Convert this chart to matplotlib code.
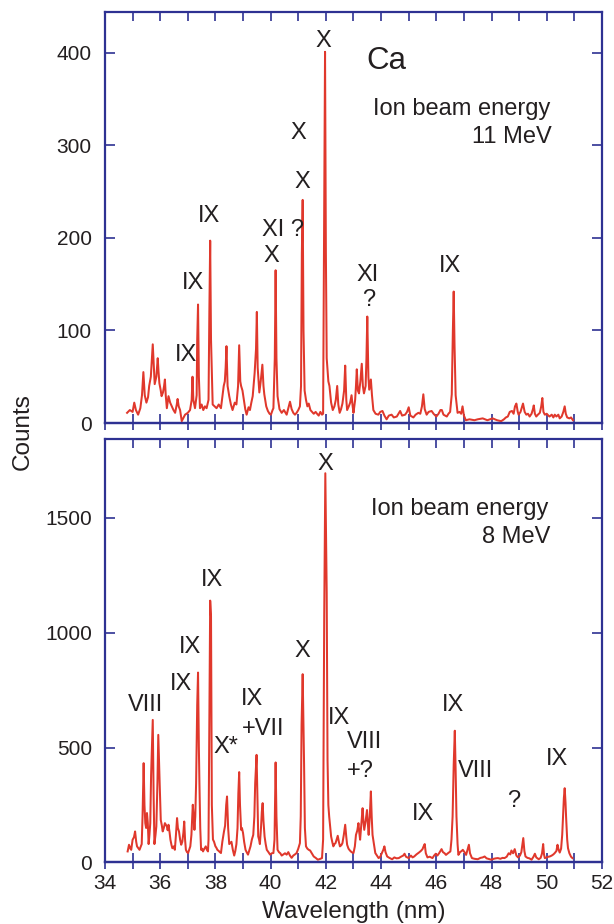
import matplotlib
matplotlib.use('Agg')
import matplotlib.pyplot as plt

plt.rcParams['font.family'] = ['Liberation Sans', 'DejaVu Sans']

# ---------------- data: 11 MeV spectrum ----------------
wl_11 = [34.80, 34.90, 35.00, 35.06, 35.12, 35.20, 35.28, 35.34, 35.39, 35.44,
         35.50, 35.56, 35.60, 35.66, 35.70, 35.73, 35.77, 35.80, 35.86, 35.91,
         35.94, 35.97, 36.02, 36.05, 36.10, 36.14, 36.17, 36.20, 36.24, 36.30,
         36.36, 36.42, 36.48, 36.54, 36.60, 36.63, 36.67, 36.72, 36.78, 36.85,
         36.90, 37.00, 37.08, 37.14, 37.17, 37.20, 37.26, 37.32, 37.34, 37.37,
         37.40, 37.44, 37.50, 37.56, 37.62, 37.68, 37.75, 37.78, 37.81, 37.84,
         37.90, 37.97, 38.04, 38.12, 38.20, 38.26, 38.30, 38.34, 38.37, 38.40,
         38.44, 38.50, 38.56, 38.62, 38.70, 38.76, 38.82, 38.86, 38.90, 38.93,
         38.98, 39.02, 39.08, 39.13, 39.20, 39.25, 39.30, 39.35, 39.42, 39.47,
         39.50, 39.53, 39.59, 39.64, 39.70, 39.74, 39.77, 39.84, 39.90, 39.96,
         40.01, 40.07, 40.10, 40.15, 40.18, 40.21, 40.25, 40.32, 40.40, 40.48,
         40.58, 40.64, 40.70, 40.76, 40.82, 40.88, 40.94, 41.00, 41.06, 41.10,
         41.13, 41.16, 41.19, 41.23, 41.28, 41.33, 41.38, 41.44, 41.50, 41.56,
         41.63, 41.68, 41.74, 41.80, 41.86, 41.90, 41.93, 41.97, 42.00, 42.03,
         42.05, 42.09, 42.13, 42.19, 42.25, 42.31, 42.36, 42.41, 42.45, 42.50,
         42.55, 42.60, 42.66, 42.70, 42.74, 42.77, 42.83, 42.88, 42.93, 42.97,
         43.00, 43.06, 43.09, 43.12, 43.16, 43.20, 43.25, 43.30, 43.34, 43.38,
         43.44, 43.47, 43.50, 43.54, 43.57, 43.63, 43.67, 43.72, 43.80, 43.90,
         43.97, 44.05, 44.12, 44.20, 44.28, 44.38, 44.46, 44.57, 44.63, 44.69,
         44.76, 44.87, 44.94, 45.00, 45.06, 45.17, 45.25, 45.35, 45.42, 45.48,
         45.53, 45.58, 45.65, 45.72, 45.83, 45.90, 46.00, 46.08, 46.15, 46.20,
         46.26, 46.32, 46.38, 46.44, 46.50, 46.56, 46.60, 46.63, 46.66, 46.70,
         46.77, 46.84, 46.90, 46.95, 47.00, 47.07, 47.20, 47.38, 47.50, 47.68,
         47.85, 48.04, 48.20, 48.35, 48.45, 48.52, 48.59, 48.66, 48.74, 48.80,
         48.85, 48.90, 48.95, 48.98, 49.05, 49.10, 49.14, 49.20, 49.26, 49.32,
         49.38, 49.45, 49.50, 49.53, 49.57, 49.62, 49.68, 49.75, 49.80, 49.84,
         49.88, 49.93, 50.00, 50.06, 50.10, 50.18, 50.24, 50.29, 50.35, 50.42,
         50.47, 50.54, 50.60, 50.65, 50.69, 50.74, 50.82, 50.88, 50.95]
counts_11 = [11, 14, 12, 22, 14, 9, 16, 30, 55, 30,
             22, 28, 40, 50, 70, 85, 60, 42, 50, 70,
             55, 43, 35, 29, 33, 40, 47, 30, 16, 29,
             22, 18, 14, 11, 20, 26, 18, 14, 2, 6,
             9, 11, 14, 25, 50, 25, 16, 30, 90, 128,
             50, 16, 20, 14, 18, 16, 25, 120, 197, 90,
             20, 18, 16, 20, 16, 30, 40, 45, 60, 83,
             40, 29, 20, 14, 22, 20, 40, 84, 45, 40,
             35, 27, 15, 9, 17, 14, 22, 29, 54, 80,
             120, 60, 33, 45, 63, 40, 31, 18, 13, 10,
             9, 14, 16, 70, 165, 70, 29, 15, 11, 14,
             9, 16, 23, 15, 11, 9, 11, 14, 18, 40,
             183, 241, 100, 35, 25, 18, 21, 14, 12, 10,
             12, 10, 8, 12, 9, 10, 185, 401, 185, 70,
             62, 45, 40, 22, 14, 18, 25, 40, 20, 11,
             15, 21, 35, 62, 25, 14, 18, 22, 30, 18,
             11, 25, 40, 58, 35, 32, 45, 64, 40, 32,
             40, 70, 115, 50, 36, 47, 30, 14, 10, 9,
             12, 13, 8, 4, 8, 9, 6, 7, 10, 13,
             8, 9, 12, 17, 8, 6, 9, 11, 10, 18,
             31, 15, 9, 12, 13, 10, 7, 10, 14, 14,
             9, 8, 7, 10, 12, 31, 100, 142, 84, 30,
             11, 12, 10, 18, 8, 3, 4, 3, 4, 5,
             3, 5, 3, 2, 4, 6, 7, 12, 13, 10,
             18, 21, 12, 9, 12, 17, 21, 12, 9, 10,
             7, 10, 15, 19, 10, 7, 9, 11, 18, 27,
             12, 9, 10, 8, 7, 9, 6, 9, 7, 9,
             5, 7, 12, 18, 10, 6, 5, 6, 3]

# ---------------- data: 8 MeV spectrum ----------------
wl_8 = [34.82, 34.87, 34.92, 34.95, 35.00, 35.05, 35.09, 35.13, 35.16, 35.22,
        35.25, 35.30, 35.33, 35.36, 35.40, 35.43, 35.46, 35.49, 35.52, 35.55,
        35.58, 35.61, 35.64, 35.67, 35.70, 35.73, 35.76, 35.79, 35.83, 35.86,
        35.90, 35.93, 35.96, 35.98, 36.02, 36.06, 36.09, 36.13, 36.17, 36.20,
        36.24, 36.27, 36.30, 36.34, 36.37, 36.41, 36.44, 36.49, 36.53, 36.57,
        36.61, 36.64, 36.68, 36.72, 36.76, 36.80, 36.84, 36.87, 36.90, 36.93,
        36.97, 37.01, 37.05, 37.09, 37.13, 37.18, 37.21, 37.24, 37.27, 37.30,
        37.34, 37.37, 37.40, 37.42, 37.45, 37.48, 37.52, 37.55, 37.60, 37.65,
        37.69, 37.73, 37.75, 37.78, 37.81, 37.84, 37.87, 37.91, 37.95, 38.00,
        38.03, 38.07, 38.12, 38.16, 38.20, 38.25, 38.31, 38.35, 38.39, 38.42,
        38.46, 38.50, 38.54, 38.58, 38.63, 38.68, 38.72, 38.76, 38.80, 38.83,
        38.86, 38.89, 38.93, 38.96, 39.00, 39.04, 39.09, 39.13, 39.18, 39.22,
        39.27, 39.32, 39.37, 39.41, 39.44, 39.49, 39.52, 39.55, 39.58, 39.61,
        39.65, 39.68, 39.71, 39.74, 39.78, 39.82, 39.86, 39.92, 39.98, 40.04,
        40.10, 40.14, 40.18, 40.21, 40.25, 40.30, 40.35, 40.40, 40.46, 40.52,
        40.58, 40.64, 40.70, 40.76, 40.82, 40.88, 40.94, 41.00, 41.06, 41.09,
        41.12, 41.16, 41.19, 41.21, 41.24, 41.28, 41.33, 41.38, 41.43, 41.49,
        41.56, 41.63, 41.71, 41.78, 41.86, 41.90, 41.94, 41.98, 42.03, 42.06,
        42.09, 42.12, 42.16, 42.19, 42.23, 42.27, 42.31, 42.35, 42.39, 42.43,
        42.47, 42.51, 42.56, 42.60, 42.65, 42.70, 42.74, 42.77, 42.82, 42.87,
        42.93, 43.00, 43.05, 43.09, 43.14, 43.18, 43.21, 43.24, 43.28, 43.33,
        43.36, 43.39, 43.44, 43.49, 43.52, 43.55, 43.59, 43.63, 43.66, 43.69,
        43.74, 43.79, 43.85, 43.91, 43.97, 44.03, 44.08, 44.12, 44.16, 44.22,
        44.30, 44.40, 44.48, 44.56, 44.64, 44.72, 44.80, 44.85, 44.90, 45.00,
        45.08, 45.14, 45.20, 45.28, 45.37, 45.44, 45.50, 45.54, 45.58, 45.62,
        45.68, 45.76, 45.86, 45.92, 45.98, 46.04, 46.10, 46.15, 46.19, 46.24,
        46.30, 46.35, 46.42, 46.48, 46.51, 46.55, 46.59, 46.63, 46.67, 46.70,
        46.73, 46.77, 46.80, 46.86, 46.92, 46.96, 47.02, 47.08, 47.13, 47.18,
        47.22, 47.29, 47.38, 47.50, 47.60, 47.68, 47.75, 47.82, 47.90, 47.99,
        48.08, 48.16, 48.23, 48.32, 48.40, 48.47, 48.55, 48.62, 48.68, 48.72,
        48.78, 48.84, 48.90, 48.96, 49.03, 49.08, 49.12, 49.15, 49.19, 49.23,
        49.30, 49.37, 49.45, 49.52, 49.57, 49.62, 49.71, 49.78, 49.83, 49.87,
        49.90, 49.93, 50.00, 50.06, 50.11, 50.18, 50.24, 50.29, 50.35, 50.39,
        50.43, 50.47, 50.52, 50.56, 50.59, 50.62, 50.65, 50.68, 50.70, 50.74,
        50.77, 50.82, 50.88, 50.93]
counts_8 = [48, 77, 60, 55, 99, 110, 135, 90, 70, 60,
            55, 70, 80, 200, 432, 250, 171, 150, 215, 172,
            80, 120, 171, 381, 500, 620, 300, 80, 120, 157,
            350, 555, 420, 345, 185, 160, 135, 150, 171, 165,
            157, 140, 164, 130, 99, 75, 62, 70, 55, 120,
            193, 150, 135, 100, 77, 90, 130, 178, 100, 55,
            45, 41, 55, 70, 120, 251, 200, 142, 200, 345,
            685, 826, 500, 345, 150, 55, 60, 48, 60, 70,
            55, 48, 100, 652, 1139, 1070, 250, 100, 90, 70,
            65, 55, 50, 45, 41, 90, 135, 160, 250, 287,
            150, 80, 85, 90, 55, 30, 50, 80, 150, 300,
            393, 250, 142, 150, 128, 90, 55, 45, 34, 50,
            70, 100, 120, 200, 345, 468, 300, 113, 100, 80,
            150, 220, 258, 180, 113, 80, 55, 45, 34, 40,
            41, 100, 435, 200, 55, 45, 40, 30, 35, 40,
            34, 45, 30, 20, 30, 35, 41, 60, 84, 200,
            599, 819, 600, 432, 150, 70, 60, 55, 52, 40,
            26, 20, 12, 15, 19, 100, 1070, 1693, 1174, 447,
            250, 200, 150, 113, 90, 70, 80, 84, 100, 116,
            90, 70, 75, 84, 120, 164, 110, 77, 60, 52,
            45, 41, 70, 120, 140, 171, 130, 99, 160, 236,
            180, 142, 180, 228, 170, 120, 200, 309, 200, 120,
            80, 41, 30, 19, 25, 41, 55, 70, 45, 26,
            20, 14, 22, 18, 19, 25, 30, 38, 25, 19,
            30, 22, 26, 35, 43, 50, 58, 70, 80, 40,
            22, 25, 19, 30, 38, 30, 40, 50, 58, 45,
            40, 33, 40, 45, 48, 100, 200, 425, 573, 400,
            200, 80, 33, 45, 50, 55, 45, 33, 55, 77,
            40, 19, 16, 14, 20, 22, 26, 18, 15, 12,
            16, 18, 19, 16, 20, 19, 25, 40, 35, 52,
            40, 58, 30, 22, 30, 45, 80, 106, 50, 26,
            20, 18, 12, 25, 38, 22, 14, 20, 40, 80,
            35, 19, 22, 25, 26, 30, 35, 41, 50, 77,
            55, 43, 60, 120, 200, 280, 323, 260, 200, 100,
            62, 40, 25, 19]

# ---------------- axis ticks ----------------
x_ticks = list(range(34, 53))
x_tick_labels = [str(v) if v % 2 == 0 else '' for v in x_ticks]
y_ticks_11 = [0, 100, 200, 300, 400]
y_ticks_8 = [0, 500, 1000, 1500]

# ---------------- annotations (text, x, y) ----------------
notes_11 = [("X", 41.90, 413), ("X", 41.02, 313), ("X", 41.14, 260),
            ("IX", 37.77, 224), ("XI ?", 40.43, 208), ("X", 40.04, 180),
            ("IX", 37.19, 151), ("IX", 36.95, 73), ("XI", 43.50, 160),
            ("?", 43.55, 133), ("IX", 46.49, 170)]
notes_8 = [("X", 41.97, 1735), ("IX", 37.88, 1229), ("IX", 37.07, 936),
           ("IX", 36.75, 776), ("VIII", 35.48, 686), ("X", 41.13, 920),
           ("IX", 39.34, 710), ("+VII", 39.73, 581), ("X*", 38.38, 504),
           ("IX", 42.46, 628), ("VIII", 43.39, 523), ("+?", 43.26, 396),
           ("IX", 46.59, 683), ("VIII", 47.43, 399), ("IX", 45.50, 210),
           ("?", 48.79, 268), ("IX", 50.36, 450)]

frame_col = '#2E3192'
line_col = '#E0382C'
text_col = '#231F20'

fig = plt.figure(figsize=(6.14, 9.24), dpi=100)
ax1 = fig.add_axes([0.1710, 0.5422, 0.8094, 0.4448])
ax2 = fig.add_axes([0.1710, 0.0666, 0.8094, 0.4578])


def style(ax, yticks, show_xlabels):
    ax.set_xlim(34, 52)
    for s in ax.spines.values():
        s.set_color(frame_col)
        s.set_linewidth(1.6)
    ax.set_xticks(x_ticks)
    ax.set_xticklabels(x_tick_labels if show_xlabels else [''] * len(x_ticks))
    ax.set_yticks(yticks)
    ax.tick_params(axis='x', which='both', direction='in', length=6.5, width=1.2,
                   color=frame_col, top=True, bottom=True,
                   labelsize=15, labelcolor=text_col, pad=8,
                   labelbottom=show_xlabels)
    ax.tick_params(axis='y', which='both', direction='in', length=7, width=1.2,
                   color=frame_col, left=True, right=True,
                   labelsize=15, labelcolor=text_col, pad=9.5)
    sec = ax.secondary_xaxis('bottom')
    sec.set_xticks(x_ticks)
    sec.tick_params(direction='out', length=5, width=1.2, color=frame_col,
                    labelbottom=False)
    sec.spines['bottom'].set_color(frame_col)
    sec.spines['bottom'].set_linewidth(1.6)


ax1.plot(wl_11, counts_11, color=line_col, lw=1.45)
ax1.set_ylim(0, 444)
style(ax1, y_ticks_11, False)
for t, x, y in notes_11:
    ax1.text(x, y, t, ha='center', va='center', fontsize=17, color=text_col)
ax1.text(43.47, 391, "Ca", ha='left', va='center', fontsize=22.5, color=text_col)
ax1.text(50.12, 339, "Ion beam energy", ha='right', va='center', fontsize=17, color=text_col)
ax1.text(50.18, 309, "11 MeV", ha='right', va='center', fontsize=17, color=text_col)

ax2.plot(wl_8, counts_8, color=line_col, lw=1.45)
ax2.set_ylim(0, 1840)
style(ax2, y_ticks_8, True)
for t, x, y in notes_8:
    ax2.text(x, y, t, ha='center', va='center', fontsize=17, color=text_col)
ax2.text(50.05, 1538, "Ion beam energy", ha='right', va='center', fontsize=17, color=text_col)
ax2.text(50.12, 1415, "8 MeV", ha='right', va='center', fontsize=17, color=text_col)

fig.text(0.5760, 0.0065, "Wavelength (nm)", ha='center', va='baseline',
         fontsize=17.5, color=text_col)
fig.text(0.037, 0.5325, "Counts", ha='center', va='center', rotation=90,
         fontsize=17.5, color=text_col)

fig.savefig('out.png', dpi=100)
